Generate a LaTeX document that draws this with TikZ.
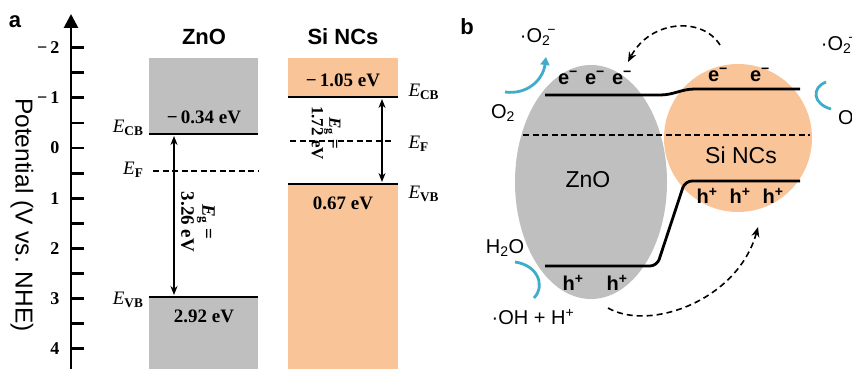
\documentclass[tikz,border=0pt]{standalone}
\usepackage{fontspec}
\setmainfont{Liberation Serif}
\setsansfont{Liberation Sans}
\usetikzlibrary{shapes.geometric, arrows.meta, positioning, calc}

\definecolor{zncol}{RGB}{191,191,191}
\definecolor{sicol}{RGB}{249,196,152}
\definecolor{redoxcol}{RGB}{64,172,204}

\newcommand{\lvl}[1]{\textit{E}\textsubscript{\textbf{#1}}}
\newcommand{\elec}{e\textsuperscript{−}}
\newcommand{\hole}{h\textsuperscript{+}}
\newcommand{\supox}{·O\textsubscript{2}\kern-3pt\textsuperscript{−}}

\begin{document}
\begin{tikzpicture}[x=1pt, y=-1pt,
        band/.style={line width=2.8pt},
        fermi/.style={line width=1.3pt, dash pattern=on 6pt off 3.5pt},
        gap/.style={{Stealth[length=9pt,width=7pt]}-{Stealth[length=9pt,width=7pt]}, line width=1.6pt},
        val/.style={font=\fontsize{19}{21}\selectfont\bfseries},
        lev/.style={font=\fontsize{19}{21}\selectfont},
        ticklbl/.style={font=\fontsize{18}{20}\selectfont\bfseries, anchor=east},
        paneltitle/.style={font=\fontsize{22}{24}\selectfont\sffamily\bfseries},
        carrier/.style={font=\fontsize{20}{22}\selectfont\sffamily\bfseries},
        chem/.style={font=\fontsize{20}{22}\selectfont\sffamily},
        redox/.style={line width=2.8pt, draw=redoxcol},
        hop/.style={line width=1.6pt, dash pattern=on 6pt off 4pt, -{Stealth[length=10pt,width=8pt]}}
    ]
        \useasboundingbox (0,0) rectangle (852,369);
        \clip (0,0) rectangle (852,369);

        % ----------------------------------------------------
        % PANEL A: POTENTIAL AXIS
        % ----------------------------------------------------
        \node[paneltitle] (pa) at (15,22) {a};
        \draw[line width=2.8pt, -{Triangle[length=14pt,width=14pt]}] (71,369) -- (71,14);
        \foreach \v in {-2,-1.5,...,4}
            \draw[line width=2.8pt] (71,{148+50.2*\v}) -- (84,{148+50.2*\v});
        \foreach \v/\lab [count=\i] in {-2/−\,2, -1/−\,1, 0/0, 1/1, 2/2, 3/3, 4/4}
            \node[ticklbl] (tl\i) at (63,{148+50.2*\v}) {\lab};
        \node[chem, font=\fontsize{24.5}{26}\selectfont\sffamily, rotate=-90] (potential) at (22,215) {Potential (V vs. NHE)};

        % ----------------------------------------------------
        % PANEL A: BAND EDGES
        % ----------------------------------------------------
        \node[paneltitle] (znotitle) at (204,37) {ZnO};
        \node[paneltitle] (sititle) at (343,37) {Si NCs};

        \fill[zncol] (149,58) rectangle (258,134);
        \fill[zncol] (149,297) rectangle (258,369);
        \fill[sicol] (288,58) rectangle (398,97);
        \fill[sicol] (288,184) rectangle (398,369);

        \draw[band] (149,134) coordinate (zcbl) -- (258,134) coordinate (zcbr);
        \draw[band] (149,297) coordinate (zvbl) -- (258,297) coordinate (zvbr);
        \draw[band] (288,97) coordinate (scbl) -- (398,97) coordinate (scbr);
        \draw[band] (288,184) coordinate (svbl) -- (398,184) coordinate (svbr);
        \draw[fermi] (153,171) -- (258,171);
        \draw[fermi] (290,141) -- (393,141);

        \coordinate (zgt) at (174,136);
        \coordinate (zgb) at (174,295);
        \coordinate (sgt) at (382,99);
        \coordinate (sgb) at (382,182);
        \draw[gap] (zgt) -- (zgb);
        \draw[gap] (sgt) -- (sgb);

        \node[val, rotate=-90, align=center] (zgap) at (198,222) {\textit{E}\textsubscript{g} =\\3.26 eV};
        \node[val, rotate=-90, align=center, font=\fontsize{17}{13}\selectfont\bfseries] (sgap) at (326,133) {\textit{E}\textsubscript{g} =\\1.72 eV};

        \node[val] (zcbv) at (204,117) {−\,0.34 eV};
        \node[val] (zvbv) at (204,316) {2.92 eV};
        \node[val] (scbv) at (343,80) {−\,1.05 eV};
        \node[val] (svbv) at (343,203) {0.67 eV};

        \node[lev, anchor=east] (zcb) at (147,128) {\lvl{CB}};
        \node[lev, anchor=east] (zef) at (147,170) {\lvl{F}};
        \node[lev, anchor=east] (zvb) at (147,300) {\lvl{VB}};
        \node[lev, anchor=west] (scb) at (405,92) {\lvl{CB}};
        \node[lev, anchor=west] (sef) at (405,144) {\lvl{F}};
        \node[lev, anchor=west] (svb) at (405,194) {\lvl{VB}};

        % ----------------------------------------------------
        % PANEL B: JUNCTION SCHEME
        % ----------------------------------------------------
        \node[paneltitle] (pb) at (467,27) {b};
        \node[ellipse, fill=zncol, minimum width=152, minimum height=234, inner sep=0] (zno) at (591,182) {};
        \node[circle, fill=sicol, minimum size=148, inner sep=0] (sinc) at (738,138) {};
        \node[chem, font=\fontsize{23}{25}\selectfont\sffamily] (znolbl) at (588,180) {ZnO};
        \node[chem, font=\fontsize{23}{25}\selectfont\sffamily] (sinclbl) at (741,155) {Si NCs};

        \draw[band] (545,95) -- (660,95) to[out=0,in=180] (695,89) -- (800,89);
        \draw[fermi] (523,135) -- (810,135);
        \draw[band, rounded corners=7pt] (545,266) -- (657,266) -- (685,181) -- (800,181);

        \node[carrier] (ez1) at (568,78) {\elec};
        \node[carrier] (ez2) at (595,78) {\elec};
        \node[carrier] (ez3) at (622,78) {\elec};
        \node[carrier] (es1) at (718,75) {\elec};
        \node[carrier] (es2) at (760,75) {\elec};
        \node[carrier] (hs1) at (707,196) {\hole};
        \node[carrier] (hs2) at (740,196) {\hole};
        \node[carrier] (hs3) at (773,196) {\hole};
        \node[carrier] (hz1) at (573,283) {\hole};
        \node[carrier] (hz2) at (617,283) {\hole};

        % redox couples
        \node[chem] (o2l) at (503,113) {O\textsubscript{2}};
        \node[chem] (radl) at (538,37) {\supox};
        \node[chem] (radr) at (839,45) {\supox};
        \node[chem] (o2r) at (850,119) {O\textsubscript{2}};
        \node[chem] (water) at (505,248) {H\textsubscript{2}O};
        \node[chem] (hydrox) at (533,317) {·OH + H\textsuperscript{+}};

        \coordinate (cl1) at (505,92);
        \coordinate (cl2) at (546,57);
        \coordinate (cr1) at (826,82);
        \coordinate (cr2) at (831,109);
        \coordinate (cw1) at (515,262);
        \coordinate (cw2) at (534,298);
        \draw[redox, -{Triangle[length=8pt,width=9pt]}] (cl1) .. controls (527,95) and (543,80) .. (cl2);
        \draw[redox] (cr1) .. controls (811,88) and (813,104) .. (cr2);
        \draw[redox] (cw1) .. controls (537,265) and (546,285) .. (cw2);

        % charge transfer
        \coordinate (eup) at (720,45);
        \coordinate (edn) at (628,62);
        \coordinate (hlo) at (608,308);
        \coordinate (hup) at (758,227);
        \draw[hop] (eup) .. controls (702,16) and (650,20) .. (edn);
        \draw[hop] (hlo) .. controls (650,332) and (738,300) .. (hup);

    \end{tikzpicture}
\end{document}
